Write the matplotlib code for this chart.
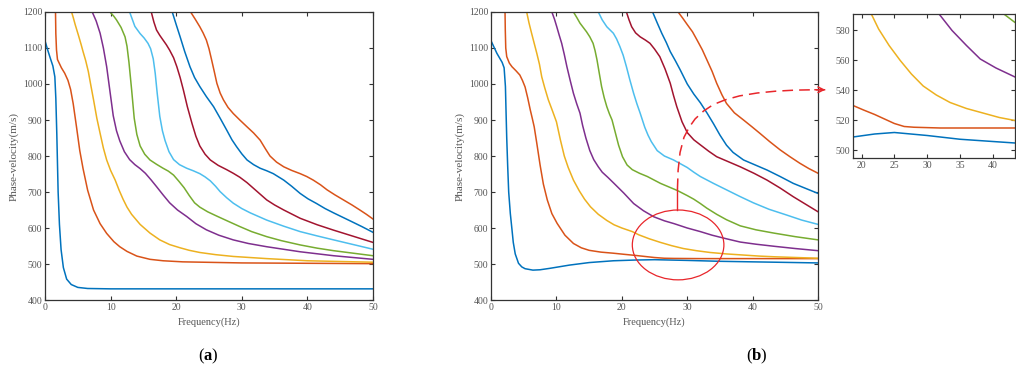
import matplotlib
matplotlib.use("Agg")
import matplotlib.pyplot as plt
from matplotlib.patches import Ellipse

plt.rcParams['font.family'] = ['Liberation Serif', 'DejaVu Serif']
plt.rcParams['mathtext.fontset'] = 'custom'
plt.rcParams['mathtext.rm'] = 'Liberation Serif'
plt.rcParams['mathtext.bf'] = 'Liberation Serif:bold'

# MATLAB default line colours, cycled
colors = ['#0072BD', '#D95319', '#EDB120', '#7E2F8E', '#77AC30',
          '#4DBEEE', '#A2142F', '#0072BD', '#D95319']

# ---- panel (a): frequency (Hz) / phase velocity (m/s) per mode ----
a_f1 = [0, 0.4, 0.8, 1.2, 1.5, 1.65, 1.8, 2.0, 2.2, 2.45, 2.8, 3.3, 4.0, 5.0, 6.5, 10, 50]
a_v1 = [1120, 1095, 1072, 1050, 1020, 960, 860, 700, 610, 540, 490, 458, 443, 435, 432, 431, 431]
a_f2 = [1.6, 1.65, 1.75, 1.9, 2.5, 3.0, 3.5, 3.9, 4.3, 4.8, 5.3, 5.8, 6.5, 7.4, 8.4, 9.4,
        10.5, 11.4, 12.5, 14, 16, 18, 21, 30, 50]
a_v2 = [1200, 1140, 1095, 1068, 1045, 1030, 1010, 985, 945, 881, 815, 765, 705, 650, 612, 585,
        562, 548, 535, 522, 513, 509, 506, 503, 501]
a_f3 = [4.05, 4.3, 4.6, 5.1, 5.5, 5.8, 6.2, 6.6, 7.0, 7.4, 7.9, 8.4, 8.9, 9.4, 10.0, 10.7,
        11.3, 11.9, 12.5, 13.2, 14.5, 16, 17.5, 19, 20.6, 22, 23.6, 26, 28.7, 33.8, 40, 50]
a_v3 = [1200, 1185, 1165, 1135, 1110, 1090, 1065, 1035, 995, 956, 905, 863, 822, 789, 760, 733,
        705, 680, 658, 638, 610, 586, 567, 554, 545, 538, 532, 526, 521, 515, 509, 505]
a_f4 = [7.2, 7.8, 8.4, 8.9, 9.4, 9.9, 10.4, 10.9, 11.4, 12.1, 12.9, 13.7, 14.5, 15.3, 16.2,
        17, 18, 19, 20.2, 21.6, 23, 24.6, 26.5, 28.7, 31, 33.8, 38.9, 44, 50]
a_v4 = [1200, 1175, 1141, 1100, 1048, 980, 912, 870, 842, 812, 790, 776, 765, 752, 733,
        715, 692, 670, 650, 632, 612, 595, 580, 567, 557, 548, 534, 523, 513]
a_f5 = [9.9, 10.5, 10.9, 11.6, 12.2, 12.5, 12.8, 13.2, 13.6, 14.0, 14.5, 15.2, 16, 17, 18,
        18.8, 19.6, 20.4, 21.2, 22, 22.8, 23.6, 24.8, 26.2, 28, 29.7, 31.5, 33.8, 36, 38.9,
        41.5, 44, 47, 50]
a_v5 = [1200, 1188, 1178, 1157, 1131, 1105, 1060, 985, 905, 860, 828, 805, 789, 777, 766,
        758, 747, 730, 712, 690, 670, 658, 645, 633, 618, 604, 590, 576, 565, 553,
        544, 537, 530, 523]
a_f6 = [12.9, 13.3, 13.7, 14.5, 15.1, 15.7, 16.1, 16.5, 16.8, 17.1, 17.5, 17.9, 18.3, 18.9,
        19.6, 20.5, 21.6, 22.6, 23.6, 24.4, 25.2, 26, 26.7, 27.7, 28.7, 30, 31.3, 33.8, 36.4,
        38.9, 41.5, 44, 47, 50]
a_v6 = [1200, 1180, 1160, 1140, 1128, 1113, 1098, 1070, 1030, 975, 910, 870, 843, 812,
        790, 776, 766, 759, 751, 742, 731, 716, 701, 684, 669, 654, 642, 622, 605,
        590, 578, 567, 554, 541]
a_f7 = [16.2, 16.6, 17, 17.5, 18, 18.5, 19, 19.6, 20.1, 20.6, 21.1, 21.7, 22.4, 23, 23.6,
        24.4, 25.2, 26.4, 27.7, 28.7, 29.7, 30.8, 31.8, 32.8, 33.8, 35, 36.4, 38.9, 41.5,
        44, 47, 50]
a_v7 = [1200, 1172, 1150, 1135, 1122, 1109, 1094, 1073, 1048, 1018, 983, 937, 891, 855, 828,
        805, 789, 774, 762, 752, 741, 726, 710, 694, 678, 664, 650, 627, 609,
        594, 577, 560]
a_f8 = [19.4, 20, 20.6, 21.3, 22.1, 22.8, 23.6, 24.6, 25.7, 26.7, 27.7, 28.5, 29.2, 30,
        30.8, 31.8, 32.8, 33.8, 34.8, 35.6, 36.4, 37.6, 38.9, 40.1, 41.4, 42.7, 44, 46.5,
        48.3, 50]
a_v8 = [1200, 1165, 1131, 1090, 1048, 1018, 993, 965, 937, 905, 872, 845, 826, 806,
        789, 776, 766, 759, 751, 742, 733, 716, 696, 681, 668, 654, 642, 620,
        604, 588]
a_f9 = [22.2, 22.9, 23.6, 24.1, 24.6, 25, 25.4, 25.8, 26.2, 26.7, 27.2, 27.9, 28.7, 29.7,
        30.8, 31.8, 32.8, 33.6, 34.3, 35.3, 36.4, 37.6, 38.9, 39.9, 40.9, 42, 43, 44.2,
        45.5, 46.8, 48, 49, 50]
a_v9 = [1200, 1180, 1159, 1142, 1122, 1098, 1067, 1035, 1002, 975, 956, 935, 918, 900,
        881, 864, 844, 820, 800, 783, 770, 760, 751, 743, 733, 720, 706, 692,
        678, 664, 650, 638, 625]

# ---- panel (b) ----
b_f1 = [0, 0.9, 1.7, 2.0, 2.2, 2.3, 2.4, 2.55, 2.7, 2.95, 3.2, 3.4, 3.7, 4.2, 4.7, 5.2,
        6.4, 7.5, 9, 12, 15, 18.7, 22, 25, 30, 35, 40, 43.4, 50]
b_v1 = [1120, 1085, 1060, 1045, 993, 920, 850, 770, 700, 640, 596, 560, 528, 502, 492, 487,
        483, 484, 488, 497, 504, 509, 511, 512, 510, 507.5, 506, 505, 503]
b_f2 = [2.14, 2.18, 2.25, 2.4, 2.8, 3.2, 3.8, 4.4, 4.8, 5.2, 5.6, 6.0, 6.3, 6.6, 7.0, 7.5,
        8.0, 8.6, 9.3, 10.1, 11.3, 12.6, 13.8, 15, 16.8, 18.7, 20.3, 22, 23.5, 25, 26.5,
        28, 32, 50]
b_v2 = [1200, 1150, 1100, 1076, 1058, 1048, 1037, 1025, 1010, 992, 962, 928, 905, 881, 835, 775,
        722, 678, 640, 613, 580, 557, 545, 538, 533, 530, 527, 524, 521, 518, 516,
        515.5, 515, 515]
b_f3 = [5.45, 5.8, 6.2, 6.6, 7.0, 7.4, 7.75, 8.2, 8.76, 9.4, 10.0, 10.6, 11.2, 11.8, 12.6,
        13.5, 14.3, 15.2, 16.4, 17.7, 18.8, 20, 21.6, 22.6, 24.2, 25.9, 27.6, 29.4, 31.4,
        33.5, 36, 38.5, 41, 43.4, 50]
b_v3 = [1200, 1170, 1141, 1113, 1085, 1055, 1020, 990, 956, 925, 895, 845, 800, 768, 733,
        703, 680, 659, 638, 621, 609, 600, 590, 581, 570, 560, 551, 543, 537,
        532, 528, 525, 522, 520, 516]
b_f4 = [9.3, 9.7, 10.05, 10.4, 10.8, 11.2, 11.6, 12.1, 12.6, 13.1, 13.6, 14.0, 14.5, 15.1,
        15.7, 16.4, 17, 17.9, 18.8, 20.3, 21.8, 23.3, 24.9, 26.5, 28, 30, 32, 33.8, 36,
        38.1, 40.5, 43.4, 46.5, 50]
b_v4 = [1200, 1180, 1159, 1137, 1113, 1082, 1048, 1010, 974, 945, 919, 885, 850, 815,
        790, 770, 755, 740, 724, 697, 668, 648, 631, 620, 612, 600, 590, 580, 570,
        561, 555, 549, 543, 537]
b_f5 = [12.6, 13.1, 13.6, 14.1, 14.6, 15.1, 15.6, 15.9, 16.2, 16.5, 16.9, 17.3, 17.7, 18.1,
        18.5, 19, 19.5, 20.1, 20.8, 21.6, 22.7, 23.9, 25.9, 27.2, 28.5, 30, 31, 32, 33,
        34.5, 36, 38.1, 40.5, 43.2, 46.5, 50]
b_v5 = [1200, 1185, 1169, 1157, 1145, 1131, 1113, 1093, 1067, 1035, 993, 962, 937, 917,
        900, 865, 830, 798, 775, 762, 752, 743, 724, 714, 704, 690, 680, 668, 655,
        638, 623, 606, 595, 586, 576, 567]
b_f6 = [16.4, 17, 17.7, 18.2, 18.7, 19.2, 19.7, 20.2, 20.7, 21.2, 21.8, 22.3, 22.8, 23.5,
        24, 24.5, 25.4, 26.5, 27.9, 29, 30, 31, 32, 34, 36, 38, 40.1, 42.5, 45.2, 47.5, 50]
b_v6 = [1200, 1178, 1159, 1150, 1141, 1125, 1104, 1080, 1048, 1013, 974, 945, 919, 880,
        858, 840, 815, 800, 789, 778, 768, 755, 743, 724, 706, 688, 670, 652, 636, 622, 610]
b_f7 = [20.7, 21.1, 21.5, 22.1, 22.8, 23.6, 24.3, 25, 25.8, 26.6, 27.4, 27.9, 28.4, 29.2,
        30, 31, 32, 33.3, 34.5, 36.3, 38.1, 40.2, 42.2, 44.2, 46.2, 48.1, 50]
b_v7 = [1200, 1178, 1159, 1142, 1131, 1122, 1113, 1097, 1076, 1042, 1002, 968, 937, 895,
        865, 845, 831, 813, 798, 784, 770, 752, 733, 711, 687, 666, 645]
b_f8 = [24.7, 25.4, 26.1, 26.8, 27.4, 28.2, 28.9, 30, 31, 32, 33, 34, 35, 36, 37, 38.6,
        40.4, 42.2, 44.2, 46.2, 48.1, 50]
b_v8 = [1200, 1170, 1141, 1115, 1090, 1064, 1040, 1000, 972, 948, 920, 890, 858, 830, 810, 789,
        775, 761, 743, 724, 710, 696]
b_f9 = [28.6, 29.3, 30, 30.8, 31.5, 32.3, 33, 33.8, 34.5, 35.3, 36, 37.2, 38.6, 39.9, 41.1,
        42.6, 44.2, 45.7, 47.2, 48.6, 50]
b_v9 = [1200, 1183, 1165, 1145, 1122, 1095, 1067, 1035, 1002, 970, 946, 920, 900, 881, 863,
        840, 817, 798, 780, 765, 752]

a_modes = [(a_f1, a_v1), (a_f2, a_v2), (a_f3, a_v3), (a_f4, a_v4), (a_f5, a_v5),
           (a_f6, a_v6), (a_f7, a_v7), (a_f8, a_v8), (a_f9, a_v9)]
b_modes = [(b_f1, b_v1), (b_f2, b_v2), (b_f3, b_v3), (b_f4, b_v4), (b_f5, b_v5),
           (b_f6, b_v6), (b_f7, b_v7), (b_f8, b_v8), (b_f9, b_v9)]

x_ticks = [0, 10, 20, 30, 40, 50]
y_ticks = [400, 500, 600, 700, 800, 900, 1000, 1100, 1200]
inset_xticks = [20, 25, 30, 35, 40]
inset_yticks = [500, 520, 540, 560, 580]

# red callout in panel (b): circle, stem and dashed arrow path
circle_center = (28.6, 553)
circle_size = (14, 194)
stem_f = [28.5, 28.5]
stem_v = [650, 708]
arrow_f = [28.5, 28.6, 28.9, 29.5, 30.3, 31.2, 32.5, 34.0, 35.8, 38.0, 40.7, 43.5, 46.5, 49.5, 51.1]
arrow_v = [708, 760, 810, 852, 880, 903, 925, 943, 956, 967, 975, 980, 983, 984, 984]

grey = '#555555'
red = '#E8262B'


def style_axes(ax, xt, yt):
    ax.set_xticks(xt)
    ax.set_yticks(yt)
    ax.tick_params(direction='in', top=True, right=True, length=3, width=0.8,
                   labelsize=7, colors='#333333', labelcolor=grey, pad=2)
    for s in ax.spines.values():
        s.set_color('#333333')
        s.set_linewidth(0.9)


fig = plt.figure(figsize=(10.16, 3.76), dpi=100)
ax_a = fig.add_axes([0.0443, 0.2021, 0.3228, 0.766])
ax_b = fig.add_axes([0.4833, 0.2021, 0.3219, 0.766])
ax_in = fig.add_axes([0.8396, 0.5798, 0.1594, 0.383])

for ax, modes in ((ax_a, a_modes), (ax_b, b_modes)):
    for (f, v), c in zip(modes, colors):
        ax.plot(f, v, color=c, lw=1.1, solid_joinstyle='round')
    ax.set_xlim(0, 50)
    ax.set_ylim(400, 1200)
    style_axes(ax, x_ticks, y_ticks)
    ax.set_xlabel('Frequency(Hz)', fontsize=7.5, color=grey, labelpad=4)
    ax.set_ylabel('Phase-velocity(m/s)', fontsize=8, color=grey, labelpad=3)

for (f, v), c in zip(b_modes, colors):
    ax_in.plot(f, v, color=c, lw=1.1, solid_joinstyle='round')
ax_in.set_xlim(18.7, 43.4)
ax_in.set_ylim(495, 591)
style_axes(ax_in, inset_xticks, inset_yticks)

ax_b.add_patch(Ellipse(circle_center, circle_size[0], circle_size[1],
                       fill=False, edgecolor=red, lw=0.9, zorder=5))
ax_b.plot(stem_f, stem_v, color=red, lw=1.0, zorder=5)
ax_b.plot(arrow_f, arrow_v, color=red, lw=1.1, dashes=(7, 4),
          clip_on=False, zorder=5)
ax_b.annotate('', xy=(arrow_f[-1], arrow_v[-1]), xytext=(arrow_f[-2], arrow_v[-2]),
              annotation_clip=False,
              arrowprops=dict(arrowstyle='->', color=red, lw=1.1,
                              mutation_scale=10, shrinkA=0, shrinkB=0))

fig.text(208 / 1016, 1 - 356 / 376, r'($\mathbf{a}$)', ha='center', va='center', fontsize=12)
fig.text(757 / 1016, 1 - 356 / 376, r'($\mathbf{b}$)', ha='center', va='center', fontsize=12)

fig.savefig('out.png', dpi=100)
